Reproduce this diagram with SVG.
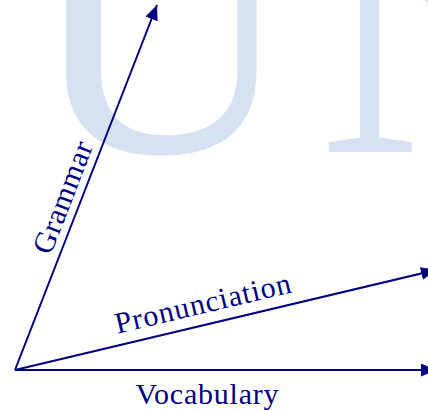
<svg xmlns="http://www.w3.org/2000/svg" width="428" height="411" viewBox="0 0 428 411">
  <style>
    .wm { font-family: "Liberation Serif", serif; font-size: 372px; fill: #d6e2f1; }
    .axis { stroke: #000080; stroke-width: 2; fill: none; }
    .lbl { font-family: "Liberation Serif", "DejaVu Serif", serif; font-size: 30px; fill: #000080; text-anchor: middle; }
  </style>
  <defs>
    <marker id="arrow" markerUnits="userSpaceOnUse" markerWidth="16" markerHeight="14" refX="15" refY="6.5" orient="auto">
      <path d="M0,0 L15,6.5 L0,13 z" fill="#000080"/>
    </marker>
  </defs>
  <rect width="428" height="411" fill="#ffffff"/>
  <g id="watermark">
    <text class="wm" x="27" y="152">U</text>
    <text class="wm" x="318" y="152">N</text>
  </g>
  <g id="connectors">
    <line id="arrow-grammar" class="axis" x1="15" y1="370" x2="157" y2="5" marker-end="url(#arrow)"/>
    <line id="arrow-pronunciation" class="axis" x1="15" y1="370" x2="436" y2="270" marker-end="url(#arrow)"/>
    <line id="arrow-vocabulary" class="axis" x1="15" y1="370" x2="436" y2="370" marker-end="url(#arrow)"/>
  </g>
  <g id="label-grammar">
    <text class="lbl" transform="translate(72,201) rotate(-68.75)" textLength="118">Grammar</text>
  </g>
  <g id="label-pronunciation">
    <text class="lbl" transform="translate(205,313) rotate(-13.35)" textLength="180">Pronunciation</text>
  </g>
  <g id="label-vocabulary">
    <text class="lbl" x="207" y="404" textLength="143">Vocabulary</text>
  </g>
</svg>
